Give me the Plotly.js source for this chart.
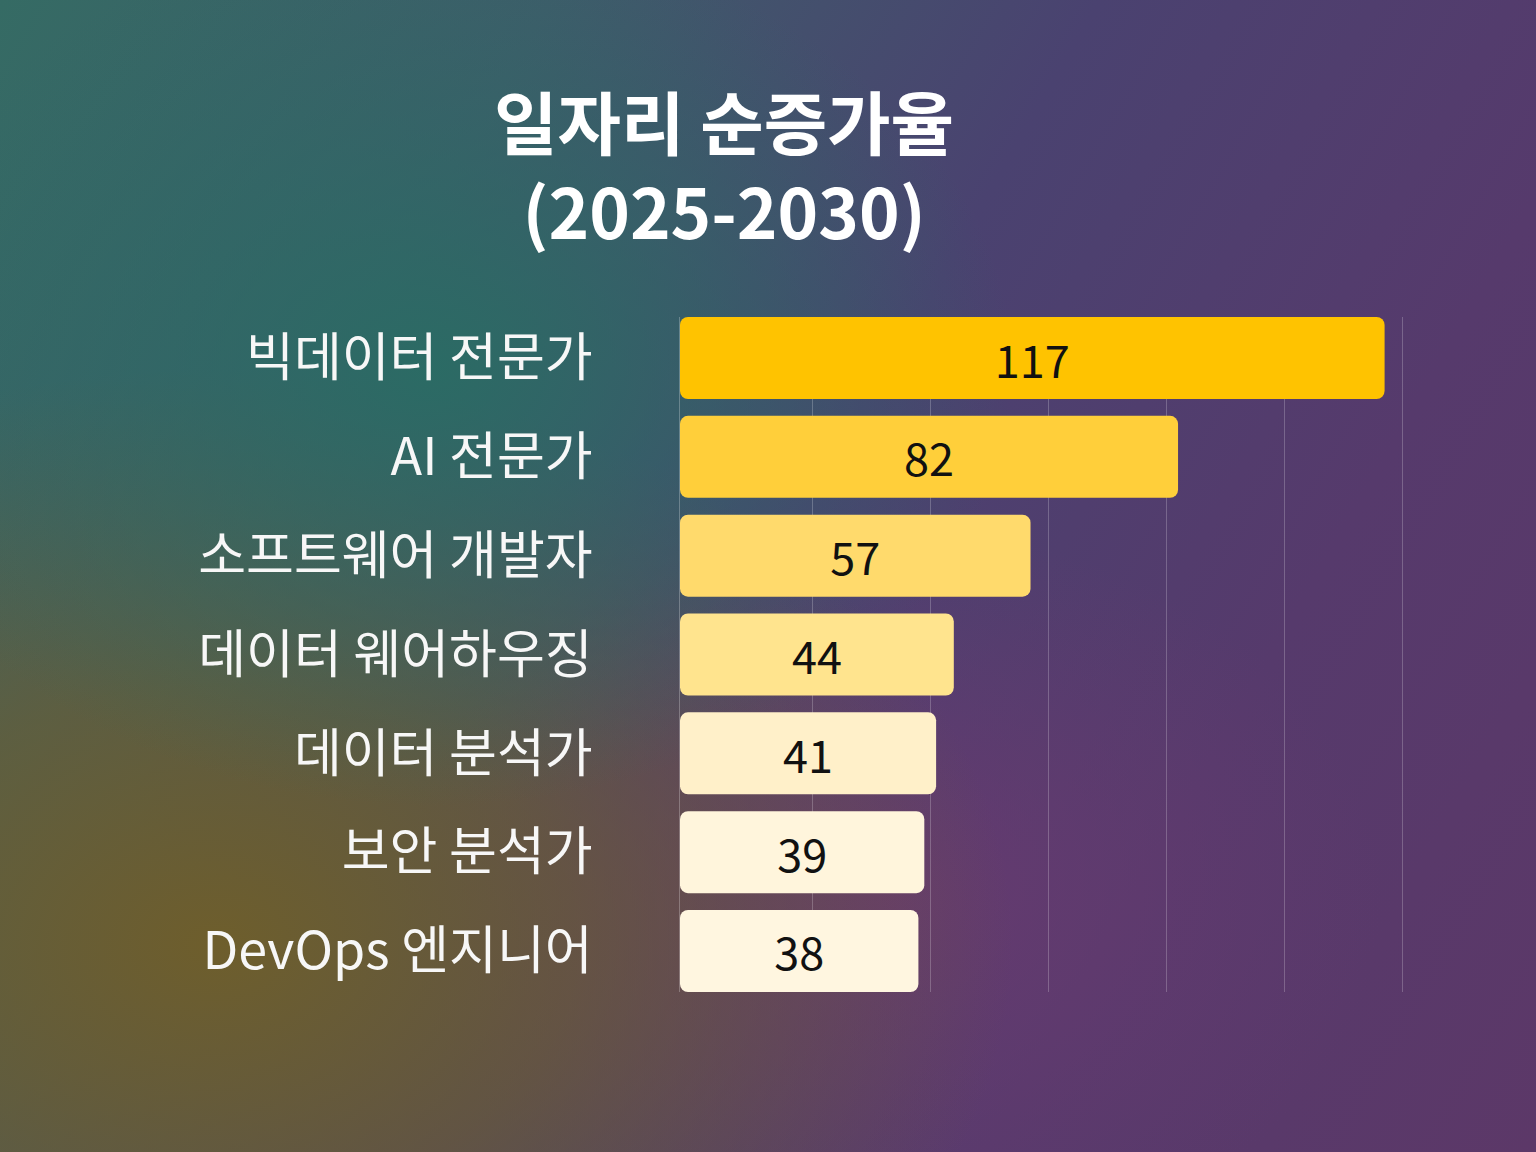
<!DOCTYPE html>
<html>
<head>
<meta charset="utf-8">
<script src="https://cdn.plot.ly/plotly-3.0.1.min.js"></script>
<style>
  html, body { margin: 0; padding: 0; }
  #chart {
    width: 1536px;
    height: 1152px;
    background:
      radial-gradient(ellipse 38% 38% at 28% 32%, rgba(42,108,100,0.95) 0%, rgba(42,108,100,0) 100%),
      radial-gradient(ellipse 52% 50% at 14% 82%, rgba(110,94,44,1) 0%, rgba(110,94,44,0.65) 45%, rgba(110,94,44,0) 100%),
      radial-gradient(ellipse 32% 32% at 58% 78%, rgba(104,58,112,0.9) 0%, rgba(104,58,112,0) 100%),
      linear-gradient(120deg, #356b64 0%, #3e5c6a 25%, #4a4270 50%, #563a6c 75%, #5c3868 100%);
  }
</style>
</head>
<body>
<div id="chart"></div>
<script>
var jobs = ["빅데이터 전문가", "AI 전문가", "소프트웨어 개발자", "데이터 웨어하우징", "데이터 분석가", "보안 분석가", "DevOps 엔지니어"];
var growth = [117, 82, 57, 44, 41, 39, 38];
var barColors = ["#ffc300", "#ffcf3a", "#ffda6c", "#ffe48e", "#fff0c9", "#fff5dc", "#fff6e0"];
var gridTicks = [20, 40, 60, 80, 100, 120];

// bars start a little left of zero, like the original
var startAt = -2.4;

var trace = {
  type: "bar",
  orientation: "h",
  y: jobs,
  x: growth.map(function (v) { return v - startAt; }),
  base: startAt,
  text: growth.map(String),
  textposition: "inside",
  insidetextanchor: "middle",
  constraintext: "none",
  textfont: { family: "Noto Sans CJK KR, sans-serif", size: 45, color: "#111111" },
  marker: { color: barColors, cornerradius: 8, line: { width: 0 } },
  hoverinfo: "skip"
};

var layout = {
  width: 1536,
  height: 1152,
  paper_bgcolor: "rgba(0,0,0,0)",
  plot_bgcolor: "rgba(0,0,0,0)",
  margin: { l: 680, r: 116, t: 317, b: 160 },
  bargap: 0.17,
  showlegend: false,
  title: {
    text: "일자리 순증가율<br>(2025-2030)",
    x: 0.4714,
    xref: "container",
    xanchor: "center",
    y: 0.87,
    yref: "container",
    yanchor: "top",
    font: { family: "Noto Sans CJK KR, sans-serif", size: 69, color: "#ffffff", weight: 700 }
  },
  xaxis: {
    range: [startAt, 123],
    tickmode: "array",
    tickvals: gridTicks,
    showticklabels: false,
    showgrid: true,
    gridcolor: "rgba(255,255,255,0.22)",
    gridwidth: 1,
    zeroline: false,
    showline: false
  },
  yaxis: {
    range: [6.415, -0.415],
    showgrid: false,
    zeroline: false,
    showline: true,
    linecolor: "rgba(255,255,255,0.25)",
    linewidth: 1,
    ticks: "",
    ticklabelstandoff: 76,
    tickfont: { family: "Noto Sans CJK KR, sans-serif", size: 52, color: "#f7f7f7" }
  }
};

Plotly.newPlot("chart", [trace], layout, { displayModeBar: false });
</script>
</body>
</html>
